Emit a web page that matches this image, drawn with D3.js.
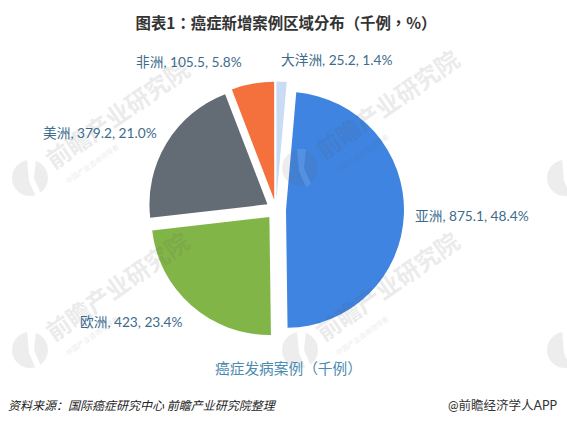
<!DOCTYPE html>
<html>
<head>
<meta charset="utf-8">
<script src="https://cdn.jsdelivr.net/npm/d3@7"></script>
<style>
html, body { margin: 0; padding: 0; background: #fff; }
svg { display: block; }
text { font-family: "Lato", "Noto Sans CJK SC", sans-serif; text-spacing-trim: space-all; }
</style>
</head>
<body>
<svg id="chart" width="567" height="424"></svg>
<script>
const regions = ["亚洲", "欧洲", "美洲", "非洲", "大洋洲"];
const cases = [875.1, 423, 379.2, 105.5, 25.2];
const shares = ["48.4%", "23.4%", "21.0%", "5.8%", "1.4%"];
const colors = ["#3f84e0", "#82b548", "#636b75", "#f4703c", "#c9dcf3"];

const width = 567;
const height = 424;
const cx = 276;
const cy = 209.5;
const radius = 118;
const explode = 10;

// label spots, same order as regions
const labelX = [415, 80, 43, 136, 281];
const labelY = [221, 327, 138, 67, 65];

// logo spots; the ones at the right edge only show part of the logo
const marks = [[30, 178], [300, 168], [30, 350], [300, 350]];
const edgeMarks = [[565, 178], [565, 350]];

const svg = d3.select("#chart");

const pie = d3.pie()
    .sort(null)
    .startAngle(5.0 * Math.PI / 180)
    .endAngle(365.0 * Math.PI / 180);

const arc = d3.arc().innerRadius(0).outerRadius(radius);
const slices = pie(cases);

svg.append("g")
    .selectAll("path")
    .data(slices)
    .join("path")
    .attr("d", arc)
    .attr("fill", (d, i) => colors[i])
    .attr("transform", d => {
        const mid = (d.startAngle + d.endAngle) / 2;
        return `translate(${cx + explode * Math.sin(mid)},${cy - explode * Math.cos(mid)})`;
    });

// watermarks sit over the pie
function addLogo(sel) {
    sel.append("circle")
        .attr("r", 18)
        .attr("fill", "#666");
    sel.append("path")
        .attr("d", "M-3,-19 L-1,3 L6,19 L11,16 L4,0 L6,-19 Z")
        .attr("fill", "#fff");
}

const wm = svg.append("g").selectAll("g")
    .data(marks)
    .join("g")
    .attr("transform", d => `translate(${d[0]},${d[1]})`)
    .attr("opacity", 0.11)
    .call(addLogo);

svg.append("g").selectAll("g")
    .data(edgeMarks)
    .join("g")
    .attr("transform", d => `translate(${d[0]},${d[1]})`)
    .attr("opacity", 0.11)
    .call(addLogo);

wm.append("text")
    .attr("transform", "translate(24,-8) rotate(-35)")
    .attr("font-size", 24)
    .attr("font-weight", 700)
    .attr("fill", "#555")
    .text("前瞻产业研究院");

wm.append("text")
    .attr("transform", "translate(38,6) rotate(-35)")
    .attr("font-size", 7)
    .attr("fill", "#555")
    .text("中国产业咨询领导者");

svg.append("text")
    .attr("x", 286)
    .attr("y", 29)
    .attr("text-anchor", "middle")
    .attr("font-size", 15.4)
    .attr("font-weight", 700)
    .attr("fill", "#333")
    .style("font-family", '"Noto Sans CJK TC", sans-serif')
    .text("图表1：癌症新增案例区域分布（千例，%）");

svg.append("g")
    .selectAll("text")
    .data(regions)
    .join("text")
    .attr("x", (d, i) => labelX[i])
    .attr("y", (d, i) => labelY[i])
    .attr("font-size", 13.7)
    .attr("fill", "#3d6b8c")
    .text((d, i) => `${d}, ${cases[i]}, ${shares[i]}`);

svg.append("text")
    .attr("x", 215)
    .attr("y", 374)
    .attr("font-size", 14.7)
    .attr("fill", "#4b8bb0")
    .text("癌症发病案例（千例）");

svg.append("text")
    .attr("x", 8)
    .attr("y", 410)
    .attr("font-size", 12)
    .attr("font-style", "italic")
    .attr("fill", "#222")
    .text("资料来源：国际癌症研究中心 前瞻产业研究院整理");

svg.append("text")
    .attr("x", 557)
    .attr("y", 410)
    .attr("text-anchor", "end")
    .attr("font-size", 12.5)
    .attr("fill", "#333")
    .text("@前瞻经济学人APP");
</script>
</body>
</html>
